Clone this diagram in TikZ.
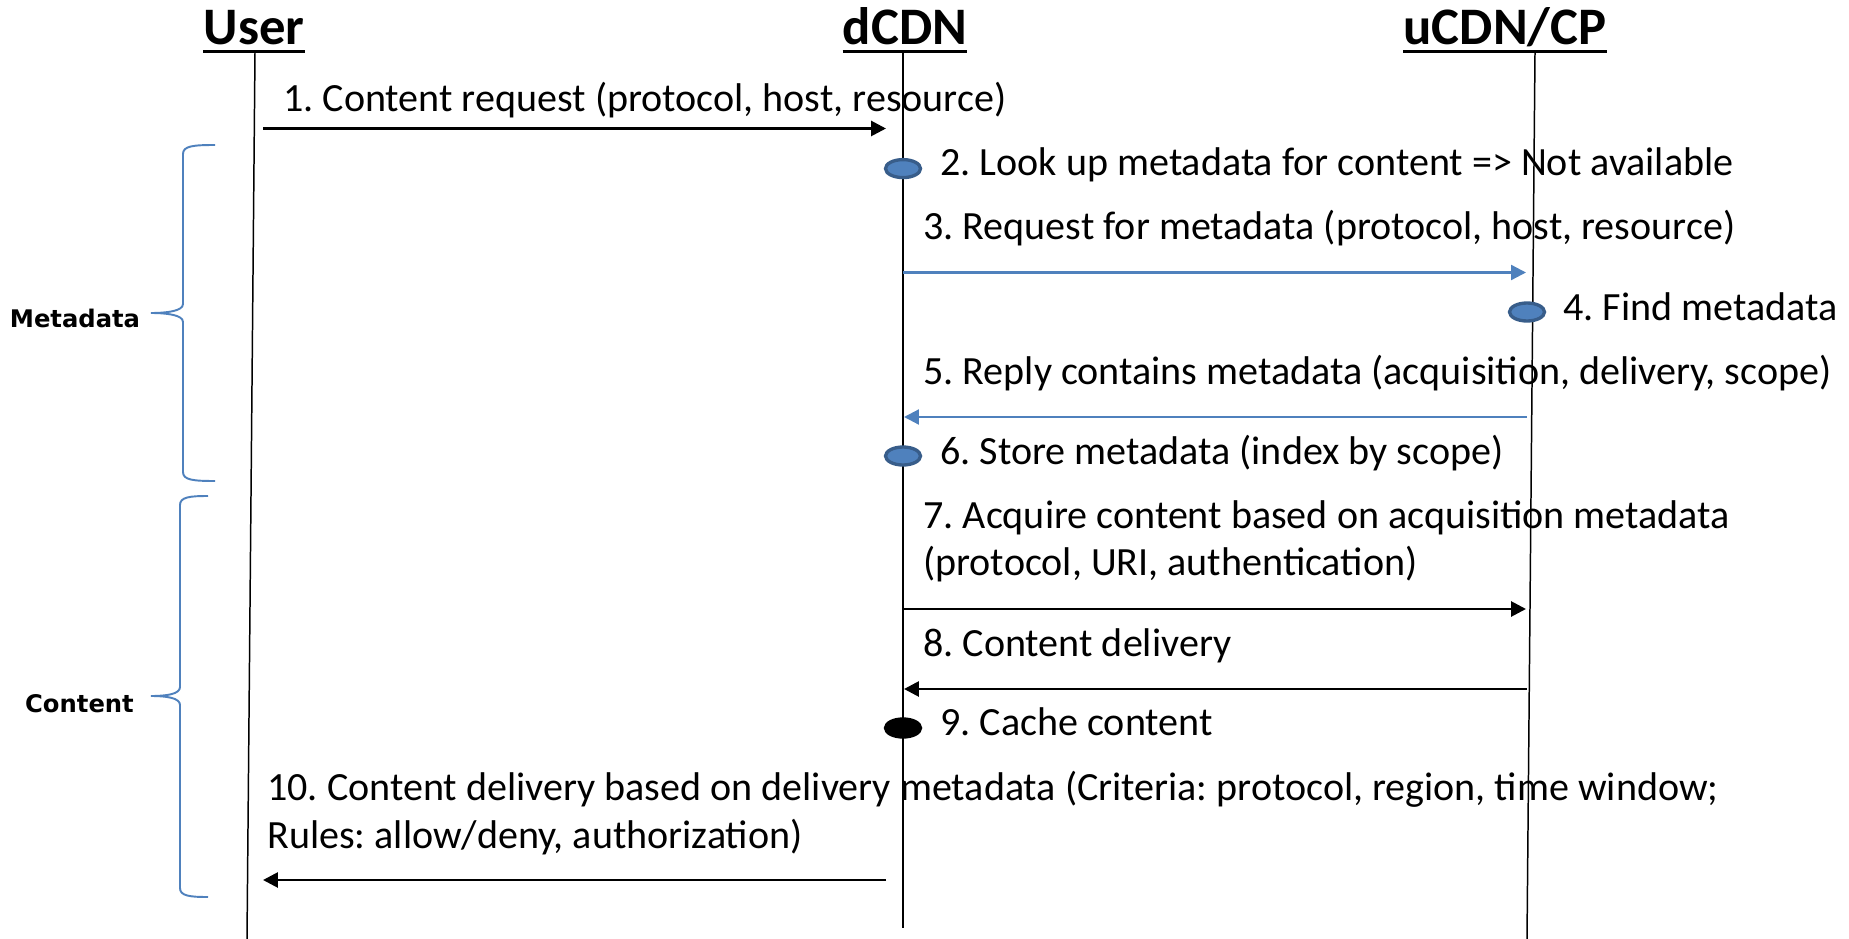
\documentclass[tikz,border=0pt]{standalone}
\usepackage{fontspec}
\setmainfont{Carlito}
\newfontfamily\groupfont{DejaVu Sans}
\usepackage{tikz}
\usetikzlibrary{calc,arrows.meta,shapes.geometric}
\frenchspacing
\definecolor{wordblue}{HTML}{4F81BD}
\definecolor{wordedge}{HTML}{385D8A}
\tikzset{
	lifeline/.style={line width=0.85pt},
	msg/.style={line width=1.6pt, -{Triangle[length=8.5pt,width=8.5pt]}},
	bluemsg/.style={msg, draw=wordblue, line width=1.3pt, -{Triangle[length=8.5pt,width=8.5pt,fill=wordblue]}},
	msgtext/.style={anchor=base west, inner sep=0pt, font=\fontsize{22.8}{27}\selectfont},
	header/.style={anchor=base, inner sep=0pt, text depth=0pt, font=\fontsize{30}{36}\selectfont\bfseries},
	grouptext/.style={anchor=base, inner sep=0pt, font=\groupfont\bfseries\fontsize{13.8}{16}\selectfont},
	bluedot/.style={ellipse, draw=wordedge, fill=wordblue, line width=1.9pt, minimum width=0.7cm, minimum height=0.36cm, inner sep=0pt},
	blackdot/.style={bluedot, draw=black, fill=black},
	grpbrace/.style={draw=wordblue, line width=1.1pt}
}
\def\sidebrace(#1:#2:#3)(#4:#5:#6){\draw[grpbrace] (#1,#4) .. controls (#2+10,#4) and (#2,#4+1) .. (#2,#4+9) -- (#2,#5-9) .. controls (#2,#5-2) and (#3+16,#5) .. (#3,#5) .. controls (#3+16,#5) and (#2,#5+2) .. (#2,#5+9) -- (#2,#6-9) .. controls (#2,#6-1) and (#2+10,#6) .. (#1,#6);}

\begin{document}
\begin{tikzpicture}[x=0.02cm, y=-0.02cm]
		%%%%% START %%%%%
		\useasboundingbox (0,0) rectangle (1849,939);
		
		\node[header] (usr) at (254,45) {User};
		\node[header] (dcdn) at (905,45) {dCDN};
		\node[header] (ucdn) at (1505,45) {uCDN/CP};
		\foreach \h in {usr,dcdn,ucdn}
			\draw[line width=1.9pt] ($(\h.base west)+(0,6.5)$) -- ($(\h.base east)+(0,6.5)$);
		
		\coordinate (usrtop) at (255,53);
		\coordinate (usrbot) at (247,939);
		\coordinate (dcdntop) at (903,53);
		\coordinate (dcdnbot) at (903,928);
		\coordinate (ucdntop) at (1535,53);
		\coordinate (ucdnbot) at (1527,939);
		\draw[lifeline] (usrtop) -- (usrbot);
		\draw[lifeline] (dcdntop) -- (dcdnbot);
		\draw[lifeline] (ucdntop) -- (ucdnbot);
		
		% 1
		\node[msgtext] (step1) at (283,112) {1. Content request (protocol, host, resource)};
		\coordinate (u1) at (263,128.5);
		\coordinate (d1) at (886,128.5);
		\draw[msg] (u1) -- (d1);
		
		% 2
		\node[bluedot] (dot2) at (903,168.6) {};
		\node[msgtext] (step2) at (940,176) {2. Look up metadata for content => Not available};
		
		% 3
		\node[msgtext] (step3) at (923,239) {3. Request for metadata (protocol, host, resource)};
		\coordinate (d3) at (903,272.5);
		\coordinate (c3) at (1526,272.5);
		\draw[bluemsg] (d3) -- (c3);
		
		% 4
		\node[bluedot] (dot4) at (1527,312) {};
		\node[msgtext] (step4) at (1563,320) {4. Find metadata};
		
		% 5
		\node[msgtext] (step5) at (923,384) {5. Reply contains metadata (acquisition, delivery, scope)};
		\coordinate (c5) at (1527,417);
		\coordinate (d5) at (904,417);
		\draw[bluemsg] (c5) -- (d5);
		
		% 6
		\node[bluedot] (dot6) at (903,456) {};
		\node[msgtext] (step6) at (940,464) {6. Store metadata (index by scope)};
		
		% 7
		\node[msgtext] (step7) at (923,528) {7. Acquire content based on acquisition metadata};
		\node[msgtext] (step7b) at (923,575) {(protocol, URI, authentication)};
		\coordinate (d7) at (903,609);
		\coordinate (c7) at (1526,609);
		\draw[msg] (d7) -- (c7);
		
		% 8
		\node[msgtext] (step8) at (923,656) {8. Content delivery};
		\coordinate (c8) at (1527,689);
		\coordinate (d8) at (904,689);
		\draw[msg] (c8) -- (d8);
		
		% 9
		\node[blackdot] (dot9) at (903,728) {};
		\node[msgtext] (step9) at (940,735) {9. Cache content};
		
		% 10
		\node[msgtext] (step10) at (267,800) {10. Content delivery based on delivery metadata (Criteria: protocol, region, time window;};
		\node[msgtext] (step10b) at (267,848) {Rules: allow/deny, authorization)};
		\coordinate (d10) at (886,880);
		\coordinate (u10) at (263,880);
		\draw[msg] (d10) -- (u10);
		
		% groups
		\sidebrace(215:183:151)(145:313:481)
		\node[grouptext] (metagrp) at (75,327) {Metadata};
		\sidebrace(208:180:151)(496:696:897)
		\node[grouptext] (contgrp) at (79.5,712) {Content};
		%%%%% END %%%%%
\end{tikzpicture}
\end{document}
